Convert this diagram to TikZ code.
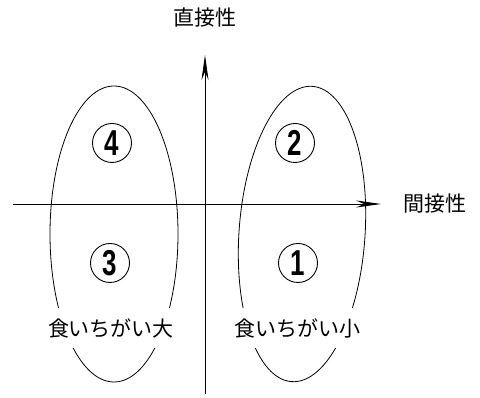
\documentclass[tikz,border=0pt]{standalone}
\usepackage{fontspec}
\usetikzlibrary{arrows.meta}
\newfontfamily\jpfont{Noto Sans CJK JP}
\newfontfamily\digitfont{Liberation Sans}
\begin{document}
\begin{tikzpicture}[x=1pt,y=1pt,
  axisline/.style={line width=0.8pt,-{Stealth[length=25pt,width=7pt]}},
  blob/.style={line width=0.8pt},
  numcircle/.style={circle,draw,line width=0.9pt,minimum size=39pt,inner sep=0pt},
  axislabel/.style={font=\jpfont\fontsize{21}{24}\selectfont,inner sep=0pt},
  grouplabel/.style={font=\jpfont\fontsize{21}{24}\selectfont,fill=white,minimum height=40pt,inner xsep=1pt,inner ysep=0pt}
]
\useasboundingbox (0,0) rectangle (480,398);
% ellipses
\draw[blob] (114,164) ellipse [x radius=64, y radius=148];
\draw[blob,rotate around={-4:(302,164)}] (302,164) ellipse [x radius=63, y radius=148];
% axes
\coordinate (vb) at (205,4);
\coordinate (vt) at (205,343);
\coordinate (hl) at (13,194);
\coordinate (hr) at (381,194);
\draw[axisline] (vb) -- (vt);
\draw[axisline] (hl) -- (hr);
% axis labels
\node[axislabel] (ly) at (205,380) {直接性};
\node[axislabel] (lx) at (435,194) {間接性};
% group labels
\node[grouplabel] (gl) at (111,70) {食いちがい大};
\node[grouplabel] (gr) at (297,70) {食いちがい小};
% numbers
\node[numcircle] (n4) at (112,255) {\scalebox{0.72}[1]{\digitfont\bfseries\fontsize{36}{36}\selectfont 4}};
\node[numcircle] (n2) at (295,255) {\scalebox{0.72}[1]{\digitfont\bfseries\fontsize{36}{36}\selectfont 2}};
\node[numcircle] (n3) at (110,135) {\scalebox{0.72}[1]{\digitfont\bfseries\fontsize{36}{36}\selectfont 3}};
\node[numcircle] (n1) at (298,135) {\scalebox{0.72}[1]{\digitfont\bfseries\fontsize{36}{36}\selectfont 1}};
\end{tikzpicture}
\end{document}
